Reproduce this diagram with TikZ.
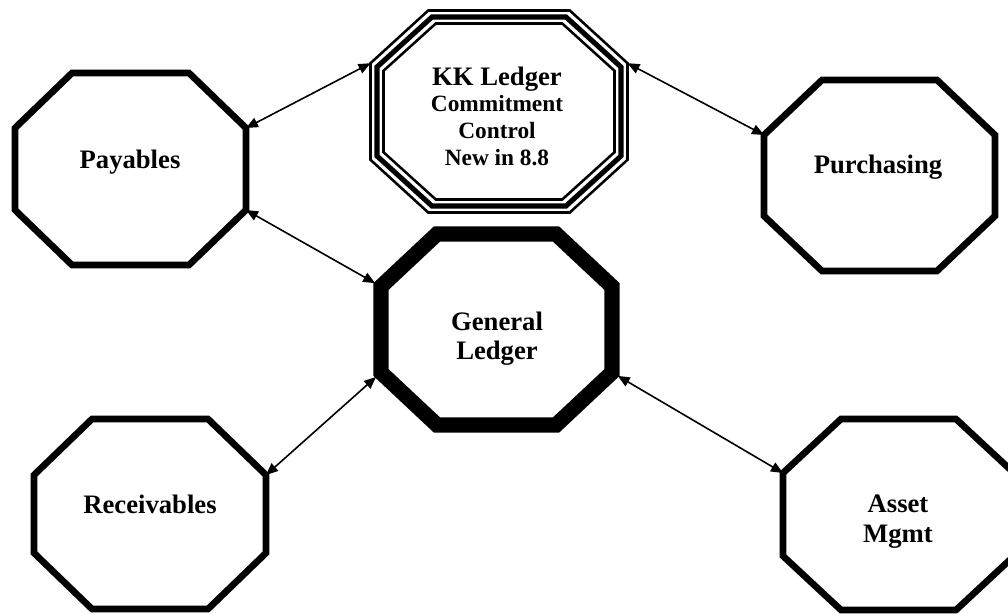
\documentclass[tikz,border=0pt]{standalone}
\usepackage{fontspec}
\setmainfont{Liberation Serif}
\usetikzlibrary{arrows.meta}
% corners of an octagon: name, cx, cy, half width, half height, cut x, cut y
\newcommand{\octcorners}[7]{%
  \coordinate (#1-1) at ({#2-#4+#6},{#3-#5});
  \coordinate (#1-2) at ({#2+#4-#6},{#3-#5});
  \coordinate (#1-3) at ({#2+#4},{#3-#5+#7});
  \coordinate (#1-4) at ({#2+#4},{#3+#5-#7});
  \coordinate (#1-5) at ({#2+#4-#6},{#3+#5});
  \coordinate (#1-6) at ({#2-#4+#6},{#3+#5});
  \coordinate (#1-7) at ({#2-#4},{#3+#5-#7});
  \coordinate (#1-8) at ({#2-#4},{#3-#5+#7});
}
\newcommand{\octdraw}[2]{\draw[#2] (#1-1) -- (#1-2) -- (#1-3) -- (#1-4) -- (#1-5) -- (#1-6) -- (#1-7) -- (#1-8) -- cycle;}
\begin{document}
\begin{tikzpicture}[x=0.75pt,y=-0.75pt,
  octline/.style={line width=5pt},
  gloct/.style={line width=11.5pt},
  kkthin/.style={line width=1.9pt},
  kkthick/.style={line width=3.8pt},
  link/.style={line width=1.2pt,{Triangle[length=9pt,width=7.5pt]}-{Triangle[length=9pt,width=7.5pt]}},
  nodetext/.style={font=\bfseries\fontsize{20}{22}\selectfont,align=center,inner sep=0pt}]
\fill[white] (0,0) rectangle (1008,614);
\clip (0,0) rectangle (1008,614);
% octagon geometry
\octcorners{pay}{130.5}{169}{115.5}{96}{57}{55}
\octcorners{pur}{879.5}{175.5}{115.5}{95.5}{58}{55}
\octcorners{gl}{496.5}{329.5}{115.5}{95.5}{56}{52.5}
\octcorners{rec}{150}{514}{116}{95}{58}{56}
\octcorners{ast}{898.5}{514.5}{115.5}{95.5}{58}{54}
\octcorners{kko}{499}{111.5}{128.5}{101}{57.7}{52.7}
\octcorners{kkm}{499}{111.5}{122}{94.5}{55}{50}
\octcorners{kki}{499}{111.5}{115.5}{88}{52.3}{47.3}
% outlines
\octdraw{pay}{octline}
\octdraw{pur}{octline}
\octdraw{rec}{octline}
\octdraw{ast}{octline}
\octdraw{gl}{gloct}
\octdraw{kko}{kkthin}
\octdraw{kkm}{kkthick}
\octdraw{kki}{kkthin}
% texts
\node[nodetext] (paytxt) at (130,162) {Payables};
\node[nodetext] (purtxt) at (878,167) {Purchasing};
\node[nodetext] (rectxt) at (150,504) {Receivables};
\node[nodetext,font=\bfseries\fontsize{20}{21.75}\selectfont] (gltxt) at (497,339) {General\\Ledger};
\node[nodetext,font=\bfseries\fontsize{20}{22.5}\selectfont] (asttxt) at (898,522) {Asset\\Mgmt};
\node[nodetext,font=\bfseries\fontsize{17.5}{20}\selectfont] (kktxt) at (497,116) {{\fontsize{20}{20}\selectfont KK Ledger}\\Commitment\\Control\\New in 8.8};
% connectors
\draw[link] (pay-3) -- (kko-8);
\draw[link] (kko-3) -- (pur-8);
\draw[link,shorten >=5pt] (pay-4) -- (gl-8);
\draw[link,shorten <=5pt] (gl-7) -- (rec-3);
\draw[link,shorten <=5pt] (gl-4) -- (ast-8);
\end{tikzpicture}
\end{document}
